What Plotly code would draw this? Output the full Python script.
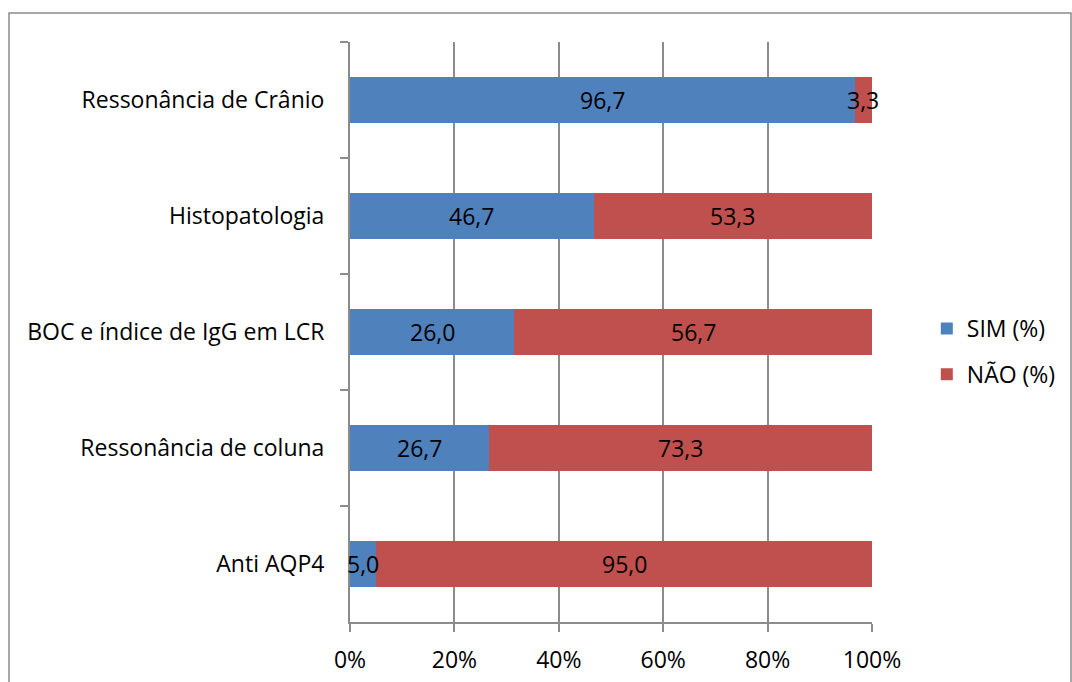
import plotly.graph_objects as go

# Exam categories, listed top to bottom
categorias = [
    "Ressonância de Crânio",
    "Histopatologia",
    "BOC e índice de IgG em LCR",
    "Ressonância de coluna",
    "Anti AQP4",
]
sim = [96.7, 46.7, 26.0, 26.7, 5.0]
nao = [3.3, 53.3, 56.7, 73.3, 95.0]
x_ticks = [0, 20, 40, 60, 80, 100]
x_tick_labels = ["0%", "20%", "40%", "60%", "80%", "100%"]

AZUL = "#4F81BD"
VERMELHO = "#C0504D"
FONTE = "Open Sans"
TAM = 23


def rotulo(v):
    return f"{v:.1f}".replace(".", ",")


series = [("SIM (%)", sim, AZUL), ("NÃO (%)", nao, VERMELHO)]

fig = go.Figure()
for nome, valores, cor in series:
    fig.add_trace(go.Bar(
        y=categorias,
        x=valores,
        name=nome,
        orientation="h",
        marker=dict(color=cor, line=dict(width=0)),
        legendgroup=nome,
        hoverinfo="skip",
    ))

# Value labels centred on each segment of the 100% stacked bars
totais = [s + n for s, n in zip(sim, nao)]
for i, cat in enumerate(categorias):
    inicio = 0.0
    for _, valores, _ in series:
        v = valores[i]
        centro = (inicio + v / 2) / totais[i] * 100
        fig.add_annotation(
            x=centro, y=cat, xref="x", yref="y",
            text=rotulo(v), showarrow=False,
            font=dict(family=FONTE, size=TAM, color="black"),
        )
        inicio += v

fig.update_layout(
    barmode="stack",
    barnorm="percent",
    bargap=0.6,
    width=1072,
    height=682,
    margin=dict(l=350, r=200, t=42, b=60, autoexpand=False),
    paper_bgcolor="white",
    plot_bgcolor="white",
    font=dict(family=FONTE, size=TAM, color="black"),
    legend=dict(
        x=1.105, xanchor="left", y=0.4665, yanchor="middle",
        traceorder="grouped", tracegroupgap=13,
        font=dict(family=FONTE, size=TAM, color="black"),
        itemwidth=30,
    ),
    xaxis=dict(
        range=[0, 100],
        automargin=False,
        tickmode="array",
        tickvals=x_ticks,
        ticktext=x_tick_labels,
        showgrid=True,
        gridcolor="#8C8C8C",
        gridwidth=1.5,
        zeroline=False,
        showline=True,
        linecolor="#8C8C8C",
        linewidth=2,
        ticks="outside",
        ticklen=8,
        tickwidth=2,
        tickcolor="#8C8C8C",
        ticklabelstandoff=8,
        tickfont=dict(family=FONTE, size=TAM),
    ),
    yaxis=dict(
        autorange="reversed",
        automargin=False,
        showgrid=False,
        showline=True,
        linecolor="#8C8C8C",
        linewidth=2,
        ticks="outside",
        tickson="boundaries",
        ticklen=8,
        tickwidth=2,
        tickcolor="#8C8C8C",
        ticklabelstandoff=19,
        tickfont=dict(family=FONTE, size=TAM),
    ),
)

# Chart frame around the whole figure area
fig.add_shape(
    type="rect", xref="paper", yref="paper",
    x0=(9 - 350) / 522, x1=(1071 - 350) / 522,
    y0=(622 - 700) / 580, y1=(622 - 13) / 580,
    line=dict(color="#8C8C8C", width=1.5),
    fillcolor="rgba(0,0,0,0)",
    layer="below",
)

fig.write_html("out.html")
